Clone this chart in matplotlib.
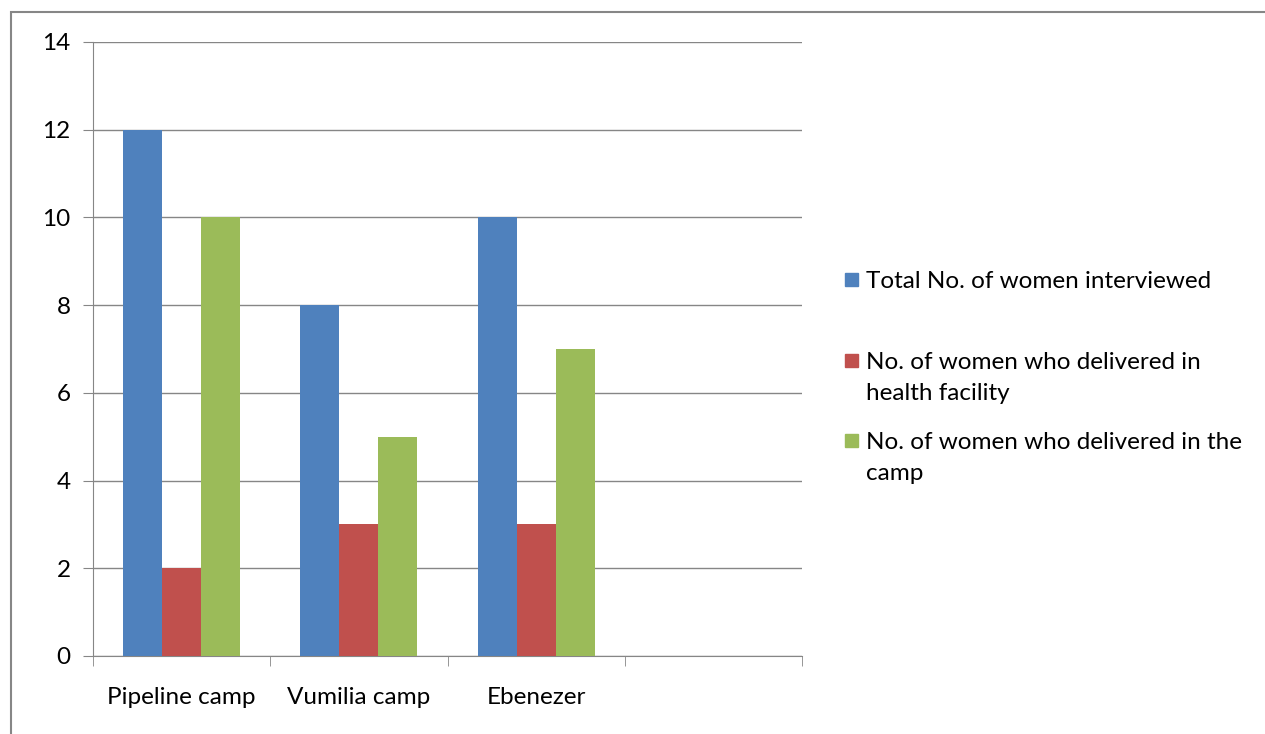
import numpy as np
import matplotlib.pyplot as plt
from matplotlib.patches import Rectangle

# Data
camps = ['Pipeline camp', 'Vumilia camp', 'Ebenezer', '']
series_labels = ['Total No. of women interviewed',
                 'No. of women who delivered in\nhealth facility',
                 'No. of women who delivered in the\ncamp']
total_interviewed = [12, 8, 10, 0]
delivered_facility = [2, 3, 3, 0]
delivered_camp = [10, 5, 7, 0]
colors = ['#4F81BD', '#C0504D', '#9BBB59']

plt.rcParams['font.family'] = ['Lato', 'DejaVu Sans']

W, H = 1265, 734
fig = plt.figure(figsize=(W / 100, H / 100), dpi=100)

# outer chart border
fig.patches.append(Rectangle((11 / W, -0.1), 1.2, 1 - 12 / H + 0.1, transform=fig.transFigure,
                             fill=False, edgecolor='#868686', linewidth=1.5))

ax = fig.add_axes([93 / W, 78 / H, 709 / W, 614 / H])

x = np.arange(len(camps))
width = 0.22
values = [total_interviewed, delivered_facility, delivered_camp]
for i, vals in enumerate(values):
    ax.bar(x + (i - 1) * width, vals, width, color=colors[i], zorder=3)

ax.set_xlim(-0.5, len(camps) - 0.5)
ax.set_ylim(0, 14)
ax.set_yticks(range(0, 15, 2))
ax.yaxis.grid(True, color='#868686', linewidth=1)
ax.set_axisbelow(True)

ax.set_xticks(x)
ax.set_xticklabels(camps)
ax.set_xticks(np.arange(-0.5, len(camps)), minor=True)
ax.tick_params(axis='x', which='major', length=0, pad=22, labelsize=17.5)
ax.tick_params(axis='x', which='minor', length=7, color='#868686', direction='out')
ax.tick_params(axis='y', length=7, color='#868686', labelsize=17.5, pad=9)

for s in ['top', 'right']:
    ax.spines[s].set_visible(False)
for s in ['left', 'bottom']:
    ax.spines[s].set_color('#868686')

# legend drawn by hand so markers line up with the first text line
legend_y = [279, 360, 440]
for lbl, col, ly in zip(series_labels, colors, legend_y):
    fig.patches.append(Rectangle((845 / W, 1 - (ly + 7) / H), 13 / W, 13 / H,
                                 transform=fig.transFigure, color=col))
    fig.text(866 / W, 1 - (ly - 8) / H, lbl, fontsize=17.5, va='top', ha='left',
             linespacing=1.6, color='#000000')

fig.savefig('out.png', dpi=100)
